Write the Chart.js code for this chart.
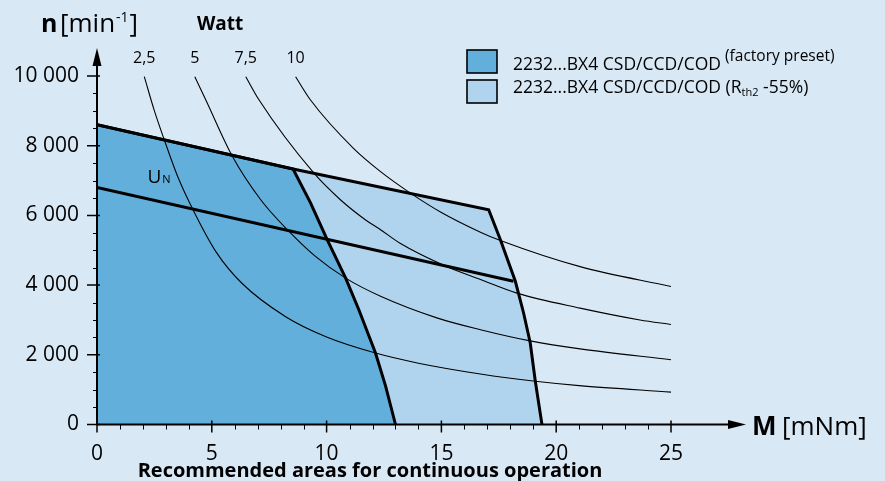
<!DOCTYPE html>
<html>
<head>
<meta charset="utf-8">
<script src="https://cdn.jsdelivr.net/npm/chart.js@4.4.1/dist/chart.umd.min.js"></script>
<style>
  html, body { margin: 0; padding: 0; background: #d9e8f5; }
  #wrap { position: relative; width: 885px; height: 481px; }
</style>
</head>
<body>
<div id="wrap"><canvas id="chart" width="885" height="481"></canvas></div>
<script>
// ------------------------------------------------------------
// data
// ------------------------------------------------------------
const M_TICKS = [0, 5, 10, 15, 20, 25];
const N_TICKS = [0, 2000, 4000, 6000, 8000, 10000];
const WATT_LABELS = ['2,5', '5', '7,5', '10'];

// factory preset operating area (top edge + thermal limit)
const presetM = [0, 8.54, 9.30, 10.03, 10.83, 11.40, 12.13, 12.57, 13.0];
const presetN = [8600, 7330, 6360, 5300, 4200, 3300, 2050, 1100, 0];

// Rth2 -55% operating area
const rth2M = [0, 8.54, 17.06, 17.57, 18.22, 18.58, 18.87, 19.09, 19.38];
const rth2N = [8600, 7330, 6160, 5300, 4110, 3200, 2340, 1240, 0];

// nominal voltage line
const unM = [0, 18.14];
const unN = [6800, 4110];

// constant power curves
const p25M = [2.06, 2.5, 2.93, 3.5, 4.23, 5.2, 6.3, 8.2, 10, 12.13, 14, 16.7, 19.09, 21, 25];
const p25N = [9980, 9000, 8170, 7140, 6100, 4940, 4060, 3100, 2510, 2050, 1760, 1450, 1240, 1115, 930];
const p5M  = [4.26, 4.74, 5.9, 7.13, 8.29, 9.5, 10.83, 12.35, 14.8, 16.7, 18.87, 21.04, 25];
const p5N  = [9980, 9310, 7690, 6450, 5590, 4830, 4200, 3680, 3060, 2720, 2400, 2170, 1860];
const p75M = [6.48, 7.06, 9.45, 10.6, 11.7, 12.35, 13.2, 15.2, 16.7, 18.29, 21.04, 23.65, 25];
const p75N = [9980, 9310, 7210, 6450, 5870, 5590, 5200, 4540, 4160, 3770, 3340, 3000, 2870];
const p10M = [8.65, 9.3, 11.16, 12.35, 13.65, 14.96, 16.7, 17.57, 21.04, 25];
const p10N = [9980, 9310, 7930, 7255, 6640, 6100, 5520, 5280, 4530, 3960];

// ------------------------------------------------------------
const FONT    = '"Open Sans", "Noto Sans", sans-serif';
const _dark   = '#62afdc';
const _light  = '#b0d4ee';
const _black  = '#000000';

Chart.defaults.font.family = FONT;
Chart.defaults.color = _black;

const pts = (xs, ys) => xs.map((v, i) => ({ x: v, y: ys[i] }));

function powerSet(xs, ys, ord) {
  return {
    data: pts(xs, ys), showLine: true, fill: false,
    borderColor: _black, borderWidth: 1.1, pointRadius: 0,
    cubicInterpolationMode: 'monotone', order: ord
  };
}

const powerSeries = [[p25M, p25N], [p5M, p5N], [p75M, p75N], [p10M, p10N]];

// draws axes with arrows, minor ticks and all the extra text
const decorPlugin = {
  id: 'decor',
  afterDraw(chart) {
    const { ctx, scales: { x, y } } = chart;
    const x0 = x.getPixelForValue(0), y0 = y.getPixelForValue(0);
    ctx.save();
    ctx.strokeStyle = _black; ctx.fillStyle = _black;

    // axis lines
    ctx.lineWidth = 2;
    ctx.beginPath();
    ctx.moveTo(x0, y0); ctx.lineTo(x0, 62);
    ctx.moveTo(x0, y0); ctx.lineTo(732, y0);
    ctx.stroke();
    // arrows
    ctx.beginPath();
    ctx.moveTo(x0, 48); ctx.lineTo(x0 - 4.5, 66); ctx.lineTo(x0 + 4.5, 66); ctx.closePath();
    ctx.moveTo(746, y0); ctx.lineTo(728, y0 - 4.5); ctx.lineTo(728, y0 + 4.5); ctx.closePath();
    ctx.fill();

    // minor + major ticks
    ctx.lineWidth = 1;
    ctx.beginPath();
    for (let v = 500; v < 10000; v += 500) {
      if (v % 2000 === 0) continue;
      const py = Math.round(y.getPixelForValue(v)) + 0.5;
      ctx.moveTo(x0 - 4, py); ctx.lineTo(x0, py);
    }
    for (let v = 1; v < 25; v++) {
      if (v % 5 === 0) continue;
      const px = Math.round(x.getPixelForValue(v)) + 0.5;
      ctx.moveTo(px, y0); ctx.lineTo(px, y0 + 5);
    }
    ctx.stroke();
    ctx.lineWidth = 1.5;
    ctx.beginPath();
    N_TICKS.forEach(v => {
      const py = y.getPixelForValue(v);
      ctx.moveTo(x0 - 10, py); ctx.lineTo(x0 + 3, py);
    });
    M_TICKS.forEach(v => {
      const px = x.getPixelForValue(v);
      ctx.moveTo(px, y0 - 4); ctx.lineTo(px, y0 + 8);
    });
    ctx.stroke();

    ctx.textBaseline = 'alphabetic';

    // axis titles
    ctx.textAlign = 'left';
    ctx.font = 'bold 25px ' + FONT;
    ctx.fillText('n', 41, 32);
    ctx.font = '26px ' + FONT;
    ctx.fillText('[min', 60, 32);
    let w = ctx.measureText('[min').width;
    ctx.font = '14px ' + FONT;
    ctx.fillText('-1', 60 + w + 1, 22);
    const w2 = ctx.measureText('-1').width;
    ctx.font = '26px ' + FONT;
    ctx.fillText(']', 60 + w + w2 + 2, 32);

    ctx.font = 'bold 19px ' + FONT;
    ctx.fillText('Watt', 197, 30);

    ctx.font = 'bold 26px ' + FONT;
    ctx.fillText('M', 752, 435);
    ctx.font = '26px ' + FONT;
    ctx.fillText('[mNm]', 782, 435);

    // power curve labels, centred above each curve start
    ctx.font = '16px ' + FONT;
    ctx.textAlign = 'center';
    powerSeries.forEach((s, i) => {
      ctx.fillText(WATT_LABELS[i], x.getPixelForValue(s[0][0]), 63);
    });

    // U_N label
    ctx.textAlign = 'left';
    ctx.font = '19px ' + FONT;
    const ux = x.getPixelForValue(2.2), uy = y.getPixelForValue(6930);
    ctx.fillText('U', ux, uy);
    const uw = ctx.measureText('U').width;
    ctx.font = '11px ' + FONT;
    ctx.fillText('N', ux + uw + 1, uy);

    // legend
    ctx.lineWidth = 1.6;
    ctx.fillStyle = _dark;
    ctx.fillRect(467, 50, 30, 23);
    ctx.strokeRect(467, 50, 30, 23);
    ctx.fillStyle = _light;
    ctx.fillRect(467, 80, 30, 23);
    ctx.strokeRect(467, 80, 30, 23);
    ctx.fillStyle = _black;
    const base = '2232...BX4 CSD/CCD/COD';
    ctx.font = '17.5px ' + FONT;
    ctx.fillText(base, 513, 70);
    w = ctx.measureText(base).width;
    ctx.font = '15.5px ' + FONT;
    ctx.fillText('(factory preset)', 513 + w + 4, 61);

    ctx.font = '17.5px ' + FONT;
    const base2 = base + ' (R';
    ctx.fillText(base2, 513, 93);
    w = ctx.measureText(base2).width;
    ctx.font = '11px ' + FONT;
    ctx.fillText('th2', 513 + w, 96);
    const ws = ctx.measureText('th2').width;
    ctx.font = '17.5px ' + FONT;
    ctx.fillText(' -55%)', 513 + w + ws, 93);

    // caption
    ctx.font = 'bold 20px ' + FONT;
    ctx.textAlign = 'center';
    ctx.fillText('Recommended areas for continuous operation', 370, 477);

    ctx.restore();
  }
};

new Chart(document.getElementById('chart'), {
  type: 'scatter',
  data: {
    datasets: [
      { data: pts(unM, unN), showLine: true, fill: false, borderColor: _black,
        borderWidth: 3, pointRadius: 0, order: 0 },
      { data: pts(presetM, presetN), showLine: true, fill: 'origin', backgroundColor: _dark,
        borderColor: _black, borderWidth: 3, pointRadius: 0, order: 1 },
      { data: pts(rth2M, rth2N), showLine: true, fill: 'origin', backgroundColor: _light,
        borderColor: _black, borderWidth: 3, pointRadius: 0, order: 2 },
      ...powerSeries.map((s, i) => powerSet(s[0], s[1], 3 + i))
    ]
  },
  options: {
    responsive: false,
    animation: false,
    layout: { padding: { top: 76, right: 214, left: 0, bottom: 0 } },
    plugins: {
      legend: { display: false },
      tooltip: { enabled: false },
      filler: { drawTime: 'beforeDatasetsDraw' }
    },
    scales: {
      x: {
        type: 'linear', min: 0, max: 25,
        afterBuildTicks: s => { s.ticks = M_TICKS.map(v => ({ value: v })); },
        afterFit: s => { s.height = 56.5; },
        ticks: { font: { size: 21 }, color: _black, padding: 17 },
        grid: { display: false, drawTicks: false },
        border: { display: false }
      },
      y: {
        type: 'linear', min: 0, max: 10000,
        afterBuildTicks: s => { s.ticks = N_TICKS.map(v => ({ value: v })); },
        afterFit: s => { s.width = 97; },
        ticks: {
          font: { size: 21 }, color: _black, padding: 18,
          callback: v => v === 0 ? '0' : (v / 1000) + ' 000'
        },
        grid: { display: false, drawTicks: false },
        border: { display: false }
      }
    }
  },
  plugins: [decorPlugin]
});
</script>
</body>
</html>
